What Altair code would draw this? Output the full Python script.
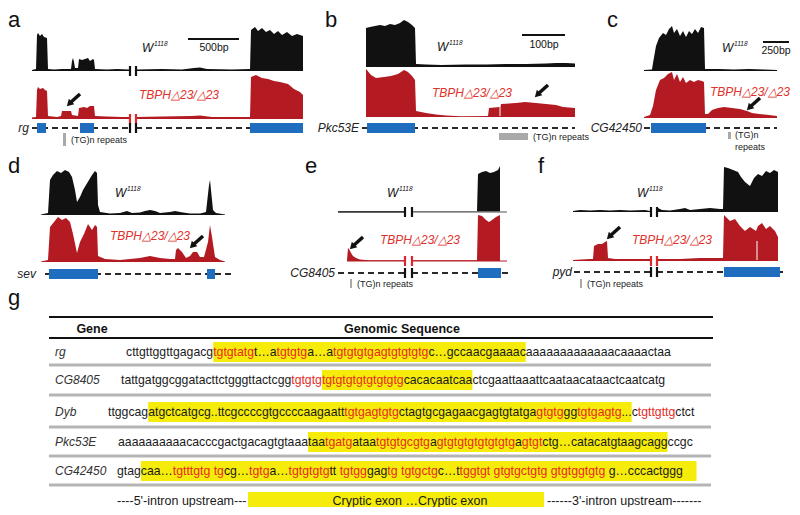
import altair as alt
import pandas as pd

# ---------------- colours ----------------
BLACK = "#111111"
RED = "#b41a22"
RED_T = "#e0322b"
BLUE = "#1f6dbf"
GREY = "#a9a9a9"
YEL = "#f6ec0c"
SEQ_K = "#1a1a1a"
SEQ_R = "#e62a1e"
FONT = "Liberation Sans"

# ---------------- coverage data (position along track, read depth) ----------------
A_WT = [
    [(0, 1), (4, 2), (5, 36), (6, 38), (8, 35), (10, 37), (12, 34), (15, 33), (16, 2), (22, 1.5), (30, 2), (39, 2),
     (40, 10), (41, 13), (42, 9), (43, 3), (46, 3), (47, 12), (50, 11), (53, 12), (56, 13), (58, 10), (61, 12),
     (62, 11), (63, 2), (75, 1.5), (85, 2), (97, 1.5)],
    [(105, 1.5), (130, 2), (150, 1.5), (162, 3), (168, 3.5), (175, 2), (200, 1.5), (218, 2), (219, 41), (223, 44),
     (226, 40), (230, 43), (234, 39), (238, 41), (242, 37), (246, 40), (250, 36), (255, 39), (260, 35), (265, 37),
     (271, 35)],
]
A_MUT = [
    [(0, 1.5), (4, 2), (5, 29), (6, 32), (8, 30), (11, 31), (13, 29), (15, 28), (16, 3), (25, 2), (29, 3), (30, 8),
     (34, 8), (39, 8), (40, 4), (46, 3), (47, 11), (52, 12), (55, 11), (58, 13), (62, 13), (63, 3), (75, 2.5),
     (90, 2), (97, 2)],
    [(105, 2), (130, 2.5), (160, 3), (168, 3.5), (180, 2), (200, 2), (218, 2), (219, 42), (224, 44), (230, 41),
     (236, 40), (242, 38), (248, 37), (256, 35), (262, 30), (268, 27), (271, 24)],
]
B_WT = [
    [(0, 39), (4, 40), (9, 41), (14, 42), (19, 41), (24, 43), (29, 42), (34, 44), (38, 47), (42, 45), (46, 42),
     (49, 39), (50, 3), (60, 2.5), (75, 2), (100, 2.5), (120, 2.5), (140, 3), (160, 3), (180, 3.5), (190, 4),
     (200, 4), (209, 3.5)],
]
B_MUT = [
    [(0, 48), (5, 42), (10, 39), (18, 40), (25, 41), (32, 43), (38, 47), (42, 45), (46, 41), (49, 37), (50, 6),
     (60, 4), (70, 2.5), (80, 1.5), (95, 0.8), (122, 1), (123, 9), (134, 10), (135, 13), (150, 14), (159, 15),
     (170, 14), (180, 13), (190, 12), (197, 10), (209, 9)],
]
C_WT = [
    [(0, 1), (8, 1.5), (9, 8), (12, 25), (15, 33), (19, 38), (22, 36), (25, 42), (28, 45), (30, 38), (33, 42),
     (36, 35), (39, 40), (42, 34), (45, 40), (48, 37), (51, 42), (54, 38), (57, 44), (60, 43), (61, 2), (75, 2),
     (90, 1.5), (105, 2), (120, 1.5), (133, 1)],
]
C_MUT = [
    [(0, 1), (6, 3), (9, 12), (12, 28), (16, 38), (20, 40), (24, 44), (28, 46), (30, 38), (33, 44), (36, 36),
     (39, 41), (42, 35), (46, 38), (50, 36), (54, 38), (58, 37), (60, 36), (61, 4), (64, 4), (68, 8), (74, 10),
     (80, 11), (88, 10), (96, 9), (103, 7), (108, 5), (115, 4), (125, 3), (133, 2)],
]
D_WT = [
    [(0, 0.5), (7, 2), (9, 35), (12, 40), (16, 44), (20, 42), (24, 45), (28, 43), (31, 38), (34, 25), (36, 13),
     (39, 18), (42, 25), (45, 30), (48, 35), (51, 40), (54, 44), (56, 42), (57, 10), (59, 3), (69, 1.5), (79, 2),
     (86, 4), (91, 2), (99, 2.5), (104, 4), (109, 5), (114, 4), (119, 2), (129, 3), (134, 4), (139, 3), (149, 1.5),
     (159, 1.5), (165, 3), (168, 30), (169, 35), (170, 25), (172, 5), (175, 2), (184, 0.5)],
]
D_MUT = [
    [(0, 0.5), (7, 2), (9, 35), (13, 40), (17, 45), (21, 42), (25, 44), (29, 40), (32, 28), (36, 9), (39, 20),
     (43, 28), (47, 38), (51, 32), (54, 37), (56, 35), (57, 6), (64, 3), (79, 2), (99, 4), (109, 6), (119, 4),
     (129, 3), (134, 3), (135, 12), (137, 14), (141, 10), (145, 4), (149, 6), (152, 10), (156, 10), (159, 5),
     (163, 5), (167, 20), (169, 37), (171, 25), (174, 5), (179, 2), (184, 0.5)],
]
E_WT = [
    [(0, 0.8), (66, 0.8)],
    [(75, 0.8), (139, 0.8), (140, 38), (144, 40), (148, 41), (152, 39), (156, 40), (160, 42), (162, 46)],
]
E_MUT = [
    [(9, 0.8), (10, 13), (11, 12), (13, 8), (15, 5), (18, 3), (22, 1.5), (30, 0.8), (66, 0.8)],
    [(75, 0.8), (139, 0.8), (140, 46), (144, 45), (148, 41), (151, 39), (154, 41), (158, 44), (162, 46)],
]
F_WT = [
    [(0, 1), (7, 2), (17, 1.5), (27, 2), (37, 1.5), (47, 2), (57, 1.5), (72, 2), (77, 1)],
    [(85, 4), (89, 2), (97, 1.5), (107, 3), (112, 4), (117, 2), (127, 3), (137, 4), (147, 3), (150, 3), (151, 45),
     (155, 44), (160, 42), (165, 40), (168, 35), (172, 30), (177, 26), (181, 34), (185, 38), (189, 36), (193, 41),
     (197, 39), (201, 42), (205, 40)],
]
F_MUT = [
    [(0, 1), (17, 2), (20, 2), (21, 15), (25, 17), (29, 17), (32, 19), (34, 20), (35, 3), (42, 2), (57, 2), (77, 2)],
    [(85, 2), (107, 2), (127, 3), (147, 3), (150, 3), (151, 46), (157, 40), (162, 42), (167, 35), (172, 30),
     (177, 34), (183, 30), (185, 35), (189, 38), (193, 32), (197, 35), (202, 30), (205, 24)],
]
COVERAGE = {"a": (A_WT, A_MUT), "b": (B_WT, B_MUT), "c": (C_WT, C_MUT),
            "d": (D_WT, D_MUT), "e": (E_WT, E_MUT), "f": (F_WT, F_MUT)}

# gene models: name, extent of intron line, exons, break (axis discontinuity)
GENES = {
    "a": dict(name="rg", line=(0, 271), exons=[(5, 14), (48, 62), (218, 271)], brk=(98, 104), gap=3),
    "b": dict(name="Pkc53E", line=(-4, 209), exons=[(1, 49)], brk=None, gap=3),
    "c": dict(name="CG42450", line=(0, 133), exons=[(7, 62)], brk=None, gap=2),
    "d": dict(name="sev", line=(4, 194), exons=[(8, 57), (166, 174)], brk=None, gap=9),
    "e": dict(name="CG8405", line=(0, 172), exons=[(140, 163)], brk=(67, 74), gap=3),
    "f": dict(name="pyd", line=(1, 214), exons=[(151, 207)], brk=(78, 84), gap=2),
}
# arrows marking cryptic exon: (position along track, depth of the head)
ARROWS = {"a": (35, 13), "b": (169, 20), "c": (103, 8), "d": (149, 14), "e": (12, 12), "f": (34, 22)}
# white splits inside red blocks
SPLITS = {"b": [134], "f": [184]}

# ---------------- layout of the figure ----------------
LAYOUT = {
    "a": dict(x0=32, wb=71, rb=119, gy=128, letter=(8, 27), wlab=(142, 48), mlab=(139, 95)),
    "b": dict(x0=366, wb=67, rb=117, gy=128, letter=(325, 27), wlab=(437, 47), mlab=(432, 93)),
    "c": dict(x0=644, wb=71, rb=118, gy=128, letter=(607, 27), wlab=(722, 48), mlab=(710, 92)),
    "d": dict(x0=41, wb=215, rb=262, gy=274, letter=(8, 173), wlab=(115, 193), mlab=(110, 236)),
    "e": dict(x0=338, wb=212, rb=261, gy=273, letter=(305, 173), wlab=(387, 193), mlab=(380, 240)),
    "f": dict(x0=573, wb=212, rb=261, gy=272, letter=(538, 173), wlab=(637, 193), mlab=(632, 240)),
}
SCALEBARS = [("500bp", 188, 239, 39, 214, 48), ("100bp", 522, 565, 35, 544, 45), ("250bp", 763, 789, 42, 776, 51)]
REPEAT_BARS = [(63, 66, 133, 146), (499, 528, 133, 140), (728, 731, 132, 139), (350, 352, 279, 288), (580, 582, 279, 288)]
REPEAT_LABELS = [("(TG)n repeats", 71, 140), ("(TG)n repeats", 533, 137), ("(TG)n", 735, 135), ("repeats", 735, 147),
                 ("(TG)n repeats", 357, 284), ("(TG)n repeats", 587, 284)]

# ---------------- table g ----------------
SEQ_ROWS = [
    ("rg", [("cttgttggttgagacg", "k", 0), ("tgtgtatg", "r", 1), ("t…a", "k", 1), ("tgtgtg", "r", 1), ("a…a", "k", 1),
            ("tgtgtgtgagtgtgtgtg", "r", 1), ("c…gccaacgaaaac", "k", 1), ("aaaaaaaaaaaaacaaaactaa", "k", 0)]),
    ("CG8405", [("tattgatggcggatacttctgggttactcgg", "k", 0), ("tgtgtg", "r", 0), ("tgtgtgtgtgtgtgtg", "r", 1),
                ("cacacaatcaa", "k", 1), ("ctcgaattaaattcaataacataactcaatcatg", "k", 0)]),
    ("Dyb", [("ttggcag", "k", 0), ("atgctcatgcg..ttcgccccgtgccccaagaatt", "k", 1), ("tgtgagtgtg", "r", 1),
             ("ctagtgcgagaacgagtgtatga", "k", 1), ("gtgtg", "r", 1), ("gg", "k", 1), ("tgtgagtg", "r", 1),
             ("...", "k", 1), ("c", "k", 0), ("tgttgttg", "r", 0), ("ctct", "k", 0)]),
    ("Pkc53E", [("aaaaaaaaaacacccgactgacagtgtaaa", "k", 0), ("taa", "k", 1), ("tgatg", "r", 1), ("ataa", "k", 1),
                ("tgtgtgcgtg", "r", 1), ("a", "k", 1), ("gtgtgtgtgtgtgtg", "r", 1), ("a", "k", 1), ("gtgt", "r", 1),
                ("ctg…catacatgtaagcagg", "k", 1), ("ccgc", "k", 0)]),
    ("CG42450", [("gtag", "k", 0), ("caa…", "k", 1), ("tgtttgtg tg", "r", 1), ("cg…", "k", 1), ("tgtg", "r", 1),
                 ("a…", "k", 1), ("tgtgtgtg", "r", 1), ("tt ", "k", 1), ("tgtgg", "r", 1), ("gag", "k", 1),
                 ("tg tgtgctg", "r", 1), ("c…t", "k", 1), ("tggtgt gtgtgctgtg gtgtggtgtg", "r", 1),
                 (" g…cccactggg", "k", 1), ("    ", "k", 1)]),
]
ROW_X = [126, 121, 108, 118, 117]
ROW_Y = [352, 380, 412, 442, 471]
SEP_Y = [365, 395, 427, 456, 485]
SEQ_FS = 12.25
AW = {"a": 556, "c": 500, "g": 556, "t": 278, "…": 1000, ".": 278, " ": 278}

# ---------------- build tables ----------------
area_rows, rule_rows, dash_rows, rect_rows, arrow_pts = [], [], [], [], []
txt = {k: [] for k in ["letter", "w", "sup", "mut", "scale", "gene", "rep", "seq", "rowlab", "bottomL", "bottomC", "head"]}

for p, (wt, mut) in COVERAGE.items():
    L = LAYOUT[p]
    for tag, segs, base, col in (("w", wt, L["wb"], BLACK), ("m", mut, L["rb"], RED)):
        for si, seg in enumerate(segs):
            for pos, d in seg:
                area_rows.append(dict(x=L["x0"] + pos, y=base - d, y0=base, seg=f"{p}{tag}{si}", col=col))
    g = GENES[p]
    gy = L["gy"]
    ls, le = g["line"]
    txt["gene"].append(dict(x=L["x0"] + ls - g["gap"], y=gy, t=g["name"], col="#222222"))
    if g["brk"]:
        b1, b2 = g["brk"]
        dash_rows += [dict(x=L["x0"] + ls, x2=L["x0"] + b1, y=gy, y2=gy),
                      dict(x=L["x0"] + b2, x2=L["x0"] + le, y=gy, y2=gy)]
        for bx in (b1, b2):
            for yy, c in ((L["wb"], BLACK), (L["rb"], "#e0262b"), (gy, BLACK)):
                rule_rows.append(dict(x=L["x0"] + bx, x2=L["x0"] + bx, y=yy - 5, y2=yy + 5, col=c, w=2.2))
    else:
        dash_rows.append(dict(x=L["x0"] + ls, x2=L["x0"] + le, y=gy, y2=gy))
    for e0, e1 in g["exons"]:
        rect_rows.append(dict(x=L["x0"] + e0, x2=L["x0"] + e1, y=gy - 5, y2=gy + 5, col=BLUE))
    for sx in SPLITS.get(p, []):
        rule_rows.append(dict(x=L["x0"] + sx, x2=L["x0"] + sx, y=L["rb"] - 20, y2=L["rb"] - 1, col="#ffffff", w=1))
    ax, ad = ARROWS[p]
    hx, hy = L["x0"] + ax, L["rb"] - ad
    rule_rows.append(dict(x=hx + 3, x2=hx + 13, y=hy - 3, y2=hy - 12, col=BLACK, w=3.5))
    arrow_pts.append(dict(x=hx + 3, y=hy - 3))
    lx, ly = L["letter"]
    txt["letter"].append(dict(x=lx, y=ly, t=p, col=BLACK))
    wx, wy = L["wlab"]
    txt["w"].append(dict(x=wx, y=wy, t="W", col=BLACK))
    txt["sup"].append(dict(x=wx + 12, y=wy - 4, t="1118", col=BLACK))
    mx, my = L["mlab"]
    txt["mut"].append(dict(x=mx, y=my, t="TBPH△23/△23", col=RED_T))

# thin baselines for panel e
Le = LAYOUT["e"]
rule_rows += [dict(x=Le["x0"], x2=Le["x0"] + 66, y=Le["wb"], y2=Le["wb"], col="#333333", w=1.5),
              dict(x=Le["x0"] + 75, x2=Le["x0"] + 169, y=Le["wb"], y2=Le["wb"], col="#888888", w=1.3),
              dict(x=Le["x0"] + 9, x2=Le["x0"] + 66, y=Le["rb"], y2=Le["rb"], col=RED, w=1.2),
              dict(x=Le["x0"] + 75, x2=Le["x0"] + 169, y=Le["rb"], y2=Le["rb"], col=RED, w=1.2)]

for lab, x0, x1, y, tx, ty in SCALEBARS:
    rule_rows.append(dict(x=x0, x2=x1, y=y, y2=y, col=BLACK, w=2))
    txt["scale"].append(dict(x=tx, y=ty, t=lab, col=BLACK))
for x0, x1, y0, y1 in REPEAT_BARS:
    rect_rows.append(dict(x=x0, x2=x1, y=y0, y2=y1, col=GREY))
for t, x, y in REPEAT_LABELS:
    txt["rep"].append(dict(x=x, y=y, t=t, col="#222222"))

# table
txt["letter"].append(dict(x=8, y=305, t="g", col=BLACK))
for y in (317, 338):
    rule_rows.append(dict(x=49, x2=713, y=y, y2=y, col=BLACK, w=2))
for y in SEP_Y:
    rule_rows.append(dict(x=49, x2=711, y=y, y2=y, col="#b5b5b5", w=3))
txt["head"] += [dict(x=92, y=329, t="Gene", col=BLACK), dict(x=402, y=329, t="Genomic Sequence", col=BLACK)]


def width(s):
    return sum(AW.get(ch, 556) for ch in s) / 1000 * SEQ_FS


for (name, segs), x, y in zip(SEQ_ROWS, ROW_X, ROW_Y):
    txt["rowlab"].append(dict(x=55, y=y, t=name, col="#333333"))
    hl_start = None
    for s, c, hl in segs:
        w = width(s)
        if hl and hl_start is None:
            hl_start = x
        if not hl and hl_start is not None:
            rect_rows.append(dict(x=hl_start, x2=x, y=y - 10, y2=y + 10, col=YEL))
            hl_start = None
        stripped = s.strip()
        if stripped:
            lead = width(s[: len(s) - len(s.lstrip())])
            txt["seq"].append(dict(x=x + lead, y=y, t=stripped, col=SEQ_R if c == "r" else SEQ_K))
        x += w
    if hl_start is not None:
        rect_rows.append(dict(x=hl_start, x2=x, y=y - 10, y2=y + 10, col=YEL))

rect_rows.append(dict(x=248, x2=544, y=492, y2=509, col=YEL))
txt["bottomL"] += [dict(x=117, y=501, t="----5'-intron upstream---", col=SEQ_K),
                   dict(x=547, y=501, t="------3'-intron upstream-------", col=SEQ_K)]
txt["bottomC"].append(dict(x=410, y=501, t="Cryptic exon …Cryptic exon", col=SEQ_K))

# ---------------- chart ----------------
XS = alt.Scale(domain=[8, 792], nice=False, zero=False)
YS = alt.Scale(domain=[8, 507], nice=False, zero=False, reverse=True)


def X():
    return alt.X("x:Q", scale=XS, axis=None)


def Y():
    return alt.Y("y:Q", scale=YS, axis=None)


NOCOL = alt.Color("col:N", scale=None)

layers = []
layers.append(alt.Chart(pd.DataFrame(dash_rows)).mark_rule(strokeDash=[6, 4], strokeWidth=2.2, color="#2a2a2a").encode(
    x=X(), x2="x2:Q", y=Y(), y2="y2:Q"))
layers.append(alt.Chart(pd.DataFrame(rect_rows)).mark_rect().encode(
    x=X(), x2="x2:Q", y=Y(), y2="y2:Q", color=NOCOL))
layers.append(alt.Chart(pd.DataFrame(area_rows)).mark_area(orient="vertical", interpolate="linear").encode(
    x=X(), y=Y(), y2="y0:Q", detail="seg:N", color=NOCOL))
layers.append(alt.Chart(pd.DataFrame(rule_rows)).mark_rule().encode(
    x=X(), x2="x2:Q", y=Y(), y2="y2:Q", color=NOCOL, size=alt.Size("w:Q", scale=None)))
layers.append(alt.Chart(pd.DataFrame(arrow_pts)).mark_point(
    shape="triangle", filled=True, size=60, angle=225, color=BLACK, opacity=1).encode(x=X(), y=Y()))


def tlayer(key, **kw):
    return alt.Chart(pd.DataFrame(txt[key])).mark_text(font=FONT, **kw).encode(
        x=X(), y=Y(), text="t:N", color=NOCOL)


layers += [
    tlayer("letter", fontSize=22, align="left", baseline="alphabetic"),
    tlayer("w", fontSize=12, fontStyle="italic", align="left", baseline="middle"),
    tlayer("sup", fontSize=6.5, fontStyle="italic", align="left", baseline="middle"),
    tlayer("mut", fontSize=12, fontStyle="italic", align="left", baseline="middle"),
    tlayer("scale", fontSize=10.5, align="center", baseline="middle"),
    tlayer("gene", fontSize=12, fontStyle="italic", align="right", baseline="middle"),
    tlayer("rep", fontSize=9, align="left", baseline="middle"),
    tlayer("seq", fontSize=SEQ_FS, align="left", baseline="middle"),
    tlayer("rowlab", fontSize=12, fontStyle="italic", align="left", baseline="middle"),
    tlayer("head", fontSize=12.5, fontWeight="bold", align="center", baseline="middle"),
    tlayer("bottomL", fontSize=12.5, align="left", baseline="middle"),
    tlayer("bottomC", fontSize=12.5, align="center", baseline="middle"),
]

chart = alt.layer(*layers).properties(
    width=784, height=499, padding=0, background="white",
    autosize=alt.AutoSizeParams(type="none"),
).configure_view(stroke=None)

chart.save("out.html", embed_options={"renderer": "svg", "actions": False})
